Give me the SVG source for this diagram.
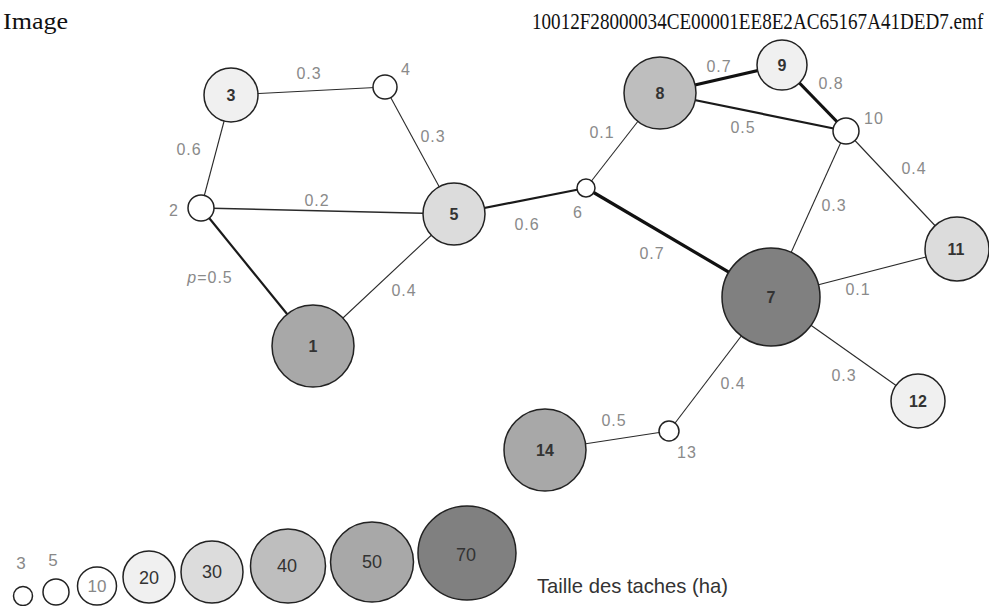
<svg xmlns="http://www.w3.org/2000/svg" width="989" height="606" viewBox="0 0 989 606">
<style>
.hdr{font-family:"Liberation Serif",serif;font-size:24px;fill:#111}
.e{stroke:#2a2a2a;stroke-width:1.1;fill:none}
.m{stroke:#1a1a1a;stroke-width:2.2;fill:none}
.t{stroke:#111;stroke-width:3.2;fill:none}
.n{stroke:#222;stroke-width:1.5}
.w{fill:#fff}.g1{fill:#f0f0f0}.g2{fill:#dcdcdc}.g3{fill:#bebebe}.g4{fill:#a8a8a8}.g5{fill:#808080}
.lbl{font-family:"Liberation Sans",Arial,sans-serif;font-size:16px;fill:#8a8a8a;text-anchor:middle;letter-spacing:1px}
.id{font-family:"Liberation Sans",Arial,sans-serif;font-size:16px;font-weight:bold;fill:#333;text-anchor:middle}
.lg{font-family:"Liberation Sans",Arial,sans-serif;font-size:18px;fill:#333;text-anchor:middle}
.lgg{font-family:"Liberation Sans",Arial,sans-serif;font-size:17px;fill:#888;text-anchor:middle}
</style>
<rect width="989" height="606" fill="#fff"/>
<text class="hdr" x="3" y="29" textLength="65" lengthAdjust="spacingAndGlyphs">Image</text>
<text class="hdr" transform="translate(532,29) scale(1,1.25)" x="0" y="0" style="font-size:19.1px">10012F28000034CE00001EE8E2AC65167A41DED7.emf</text>

<g id="connectors">
<line class="e" x1="231" y1="95" x2="385" y2="87"/>
<line class="e" x1="231" y1="95" x2="201" y2="208"/>
<line class="e" x1="385" y1="87" x2="454" y2="214"/>
<line class="e" x1="201" y1="208" x2="454" y2="214" style="stroke-width:1.5"/>
<line class="m" x1="201" y1="208" x2="313" y2="346"/>
<line class="e" x1="313" y1="346" x2="454" y2="214"/>
<line class="m" x1="454" y1="214" x2="586" y2="188"/>
<line class="e" x1="586" y1="188" x2="660" y2="93"/>
<line class="t" x1="586" y1="188" x2="771" y2="297"/>
<line class="t" x1="660" y1="93" x2="782" y2="65"/>
<line class="m" x1="660" y1="93" x2="846" y2="131"/>
<line class="t" x1="782" y1="65" x2="846" y2="131"/>
<line class="e" x1="846" y1="131" x2="771" y2="297"/>
<line class="e" x1="846" y1="131" x2="957" y2="249"/>
<line class="e" x1="771" y1="297" x2="957" y2="249"/>
<line class="e" x1="771" y1="297" x2="918" y2="401"/>
<line class="e" x1="771" y1="297" x2="669" y2="431"/>
<line class="e" x1="669" y1="431" x2="545" y2="450"/>
</g>

<g id="edge-labels">
<text class="lbl" x="309" y="79">0.3</text>
<text class="lbl" x="189" y="155">0.6</text>
<text class="lbl" x="433" y="142">0.3</text>
<text class="lbl" x="317" y="206">0.2</text>
<text class="lbl" x="210" y="283"><tspan font-style="italic">p</tspan>=0.5</text>
<text class="lbl" x="404" y="296">0.4</text>
<text class="lbl" x="527" y="230">0.6</text>
<text class="lbl" x="602" y="138">0.1</text>
<text class="lbl" x="719" y="72">0.7</text>
<text class="lbl" x="831" y="89">0.8</text>
<text class="lbl" x="743" y="133">0.5</text>
<text class="lbl" x="914" y="174">0.4</text>
<text class="lbl" x="834" y="211">0.3</text>
<text class="lbl" x="652" y="259">0.7</text>
<text class="lbl" x="858" y="295">0.1</text>
<text class="lbl" x="844" y="381">0.3</text>
<text class="lbl" x="733" y="389">0.4</text>
<text class="lbl" x="614" y="426">0.5</text>
</g>

<g id="node1"><circle class="n g4" cx="313" cy="346" r="41"/><text class="id" x="313" y="352">1</text></g>
<g id="node2"><circle class="n w" cx="201" cy="208" r="13"/><text class="lbl" x="174" y="216">2</text></g>
<g id="node3"><circle class="n g1" cx="231" cy="95" r="27"/><text class="id" x="231" y="101">3</text></g>
<g id="node4"><circle class="n w" cx="385" cy="87" r="12"/><text class="lbl" x="406" y="75">4</text></g>
<g id="node5"><circle class="n g2" cx="454" cy="214" r="31"/><text class="id" x="454" y="220">5</text></g>
<g id="node6"><circle class="n w" cx="586" cy="188" r="9"/><text class="lbl" x="578" y="218">6</text></g>
<g id="node7"><circle class="n g5" cx="771" cy="297" r="49"/><text class="id" x="771" y="303">7</text></g>
<g id="node8"><circle class="n g3" cx="660" cy="93" r="36"/><text class="id" x="660" y="99">8</text></g>
<g id="node9"><circle class="n g1" cx="782" cy="65" r="25"/><text class="id" x="782" y="71">9</text></g>
<g id="node10"><circle class="n w" cx="846" cy="131" r="13"/><text class="lbl" x="874" y="124">10</text></g>
<g id="node11"><circle class="n g2" cx="957" cy="249" r="32"/><text class="id" x="956" y="255">11</text></g>
<g id="node12"><circle class="n g1" cx="918" cy="401" r="27"/><text class="id" x="918" y="407">12</text></g>
<g id="node13"><circle class="n w" cx="669" cy="431" r="10"/><text class="lbl" x="687" y="458">13</text></g>
<g id="node14"><circle class="n g4" cx="545" cy="450" r="41"/><text class="id" x="545" y="456">14</text></g>

<g id="legend">
<ellipse class="n w" cx="23" cy="596" rx="9.5" ry="9.5"/>
<text class="lgg" x="21" y="569">3</text>
<ellipse class="n w" cx="56" cy="592" rx="13" ry="13"/>
<text class="lgg" x="53" y="566">5</text>
<ellipse class="n w" cx="97" cy="586" rx="19.5" ry="19"/>
<text class="lgg" x="97" y="592" font-size="18">10</text>
<ellipse class="n g1" cx="149" cy="577" rx="26" ry="26"/>
<text class="lg" x="149" y="584">20</text>
<ellipse class="n g2" cx="212" cy="572" rx="31" ry="31"/>
<text class="lg" x="212" y="578">30</text>
<ellipse class="n g3" cx="288" cy="566" rx="37.5" ry="37"/>
<text class="lg" x="287" y="572">40</text>
<ellipse class="n g4" cx="372" cy="562" rx="41.5" ry="40"/>
<text class="lg" x="372" y="568">50</text>
<ellipse class="n g5" cx="467" cy="553" rx="49" ry="47"/>
<text class="lg" x="466" y="561">70</text>
<text x="537" y="593" font-family="'Liberation Sans',Arial,sans-serif" font-size="21" fill="#333" textLength="191" lengthAdjust="spacingAndGlyphs">Taille des taches (ha)</text>
</g>
</svg>
